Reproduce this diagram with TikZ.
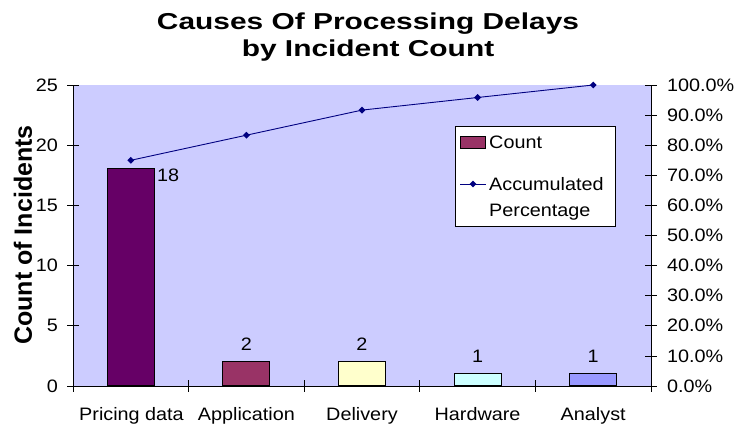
\documentclass[tikz,border=0pt]{standalone}
\usepackage{fontspec}
\usetikzlibrary{shapes.geometric}
\setmainfont{Liberation Sans}[FakeStretch=1.1]
\newfontfamily\titlef{Liberation Sans}[FakeStretch=1.3]
\newfontfamily\axisf{Liberation Sans}
\definecolor{plotbg}{HTML}{CCCCFF}
\definecolor{cA}{HTML}{660066}
\definecolor{cB}{HTML}{993366}
\definecolor{cC}{HTML}{FFFFCC}
\definecolor{cD}{HTML}{CCFFFF}
\definecolor{cE}{HTML}{9999FF}
\definecolor{navyline}{HTML}{000080}
\tikzset{
  bar/.style={draw=black, line width=0.9pt, inner sep=0pt, minimum width=47pt, anchor=south},
  lab/.style={inner sep=0pt, font=\fontsize{18}{20}\selectfont},
  ttl/.style={inner sep=0pt, font=\titlef\bfseries\fontsize{23}{27}\selectfont, anchor=base},
  mk/.style={diamond, fill=navyline, inner sep=0pt, minimum size=7pt},
  axisline/.style={black, line width=0.8pt},
  pline/.style={navyline, line width=0.9pt},
}
\begin{document}
\begin{tikzpicture}[x=1pt,y=-1pt]
\useasboundingbox (0,0) rectangle (737,425);
% plot area
\fill[plotbg] (73,85) rectangle (651,386);
% title
\node[ttl] (t1) at (368,29.5) {Causes Of Processing Delays};
\node[ttl] (t2) at (368,57) {by Incident Count};
% bars
\node[bar, fill=cA, minimum height=216.7pt] (b1) at (130.8,386) {};
\node[bar, fill=cB, minimum height=24.1pt] (b2) at (246.4,386) {};
\node[bar, fill=cC, minimum height=24.1pt] (b3) at (362,386) {};
\node[bar, fill=cD, minimum height=12pt] (b4) at (477.6,386) {};
\node[bar, fill=cE, minimum height=12pt] (b5) at (593.2,386) {};
% value labels
\node[lab, anchor=west] (v1) at (157,175) {18};
\node[lab] (v2) at (246.4,344) {2};
\node[lab] (v3) at (362,344) {2};
\node[lab] (v4) at (477.6,356) {1};
\node[lab] (v5) at (593.2,356) {1};
% axes
\coordinate (al0) at (73,386);
\coordinate (al1) at (73,85);
\coordinate (ar1) at (651,85);
\coordinate (ar0) at (651,386);
\draw[axisline] (al0) -- (al1);
\draw[axisline] (ar0) -- (ar1);
\draw[axisline] (al0) -- (ar0);
% left ticks and labels
\foreach \v [count=\i from 0] in {0,5,10,15,20,25}{
  \draw[axisline] (67,386-60.2*\i) -- (79,386-60.2*\i);
  \node[lab, anchor=east] (yl\i) at (58,386-60.2*\i) {\v};
}
% right ticks and labels
\foreach \v [count=\i from 0] in {0.0,10.0,20.0,30.0,40.0,50.0,60.0,70.0,80.0,90.0,100.0}{
  \draw[axisline] (645,386-30.1*\i) -- (657,386-30.1*\i);
  \node[lab, anchor=west] (yr\i) at (667,386-30.1*\i) {\v\%};
}
% category ticks
\foreach \i in {0,...,5}{
  \draw[axisline] (73+115.6*\i,380) -- (73+115.6*\i,392);
}
% category labels
\node[lab, anchor=base] (c1) at (131.5,420.5) {Pricing data};
\node[lab, anchor=base] (c2) at (246.4,420.5) {Application};
\node[lab, anchor=base] (c3) at (362,420.5) {Delivery};
\node[lab, anchor=base] (c4) at (477.6,420.5) {Hardware};
\node[lab, anchor=base] (c5) at (593.2,420.5) {Analyst};
% axis title
\node[inner sep=0pt, rotate=90, font=\axisf\bfseries\fontsize{25}{28}\selectfont] (ytitle) at (23,235) {Count of Incidents};
% cumulative line
\coordinate (p1) at (130.8,160.3);
\coordinate (p2) at (246.4,135.2);
\coordinate (p3) at (362,110.1);
\coordinate (p4) at (477.6,97.5);
\coordinate (p5) at (593.2,85);
\draw[pline] (p1) -- (p2) -- (p3) -- (p4) -- (p5);
\foreach \p in {p1,p2,p3,p4,p5}{ \node[mk] (m\p) at (\p) {}; }
% legend
\node[draw=black, line width=0.8pt, fill=white, minimum width=160pt, minimum height=100pt, inner sep=0pt, anchor=north west] (leg) at (455,126) {};
\node[draw=black, line width=0.8pt, fill=cB, minimum width=25pt, minimum height=11.5pt, inner sep=0pt] (legsw) at (473,142.5) {};
\node[lab, anchor=west] (legc) at (489,142.5) {Count};
\coordinate (lla) at (460,184);
\coordinate (llb) at (486,184);
\draw[pline] (lla) -- (llb);
\node[mk] (legmk) at (473,184) {};
\node[lab, anchor=west] (lega) at (489,184) {Accumulated};
\node[lab, anchor=west] (legp) at (489,212) {Percentage};
\end{tikzpicture}
\end{document}
